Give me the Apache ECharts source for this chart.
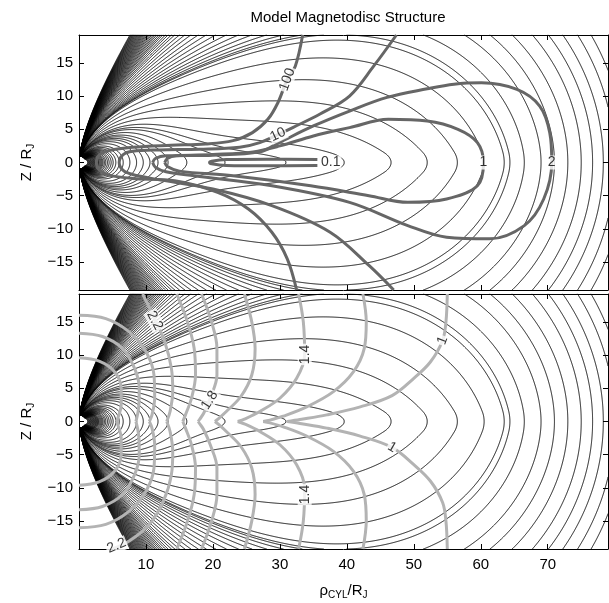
<!DOCTYPE html>
<html><head><meta charset="utf-8">
<script src="https://cdn.jsdelivr.net/npm/echarts/dist/echarts.min.js"></script>
<style>html,body{margin:0;padding:0;background:#fff;}#chart{width:609px;height:603px;}</style>
</head><body><div id="chart"></div>
<script>
// ---------------- values ----------------
const xTicks = [10, 20, 30, 40, 50, 60, 70];
const zTicks = [-15, -10, -5, 0, 5, 10, 15];
// equatorial crossing points (rho / RJ) of the black field lines (the last two close just outside the frame)
const equatorCrossings = [1.3,1.4,1.5,1.6,1.7,1.8,1.9,2.0,2.1,2.2,2.3,2.4,2.5,2.6,2.7,2.8,2.9,3.0,3.15,3.3,3.45,3.6,3.8,4.0,4.25,4.5,4.8,5.1,5.5,6.0,6.6,7.6,8.6,9.6,10.6,11.8,13.3,16.1,21.8,30.9,39.6,46.6,52,56.5,60.5,63.5,66.5,69,71,73,75,76.7,78.3,80,81.6];
// top-edge (z = 19.2) crossing points of the field lines that leave the frame through the top
const topEdgeCrossings = [7.6,7.72,7.84,7.96,8.08,8.2,8.33,8.46,8.6,8.74,8.88,9.03,9.18,9.34,9.5,9.67,9.85,10.03,10.22,10.42,10.63,10.85,11.1,11.35,11.6,11.9,12.2,12.5,12.9,13.3,13.8,14.3,15,15.8,16.7,17.8,19,20.4,22,23.8,25.8,28,30.5,33.3,36.5,40];
// plasma beta contours (top panel), points [rho, z]
const beta0p1 = [[35.6,0.45],[28,0.5],[22,0.45],[19.8,0.2],[19.5,0],[19.8,-0.2],[22,-0.45],[28,-0.5],[35.6,-0.45]];
const beta1 = [[12.8,0],[13.2,0.6],[14.5,1.0],[20,1.2],[26,1.6],[30,2.5],[35,4],[40.4,5.25],[46.2,6.5],[52,6.25],[56.6,5],[59.5,3],[60.4,0],[59.5,-3.5],[54.9,-5.5],[49.1,-6],[43.3,-5],[34.6,-3.5],[23,-2],[15,-1.3],[13.2,-0.6],[12.8,0]];
const beta2 = [[11.0,0],[11.4,0.6],[13,1.0],[20,1.1],[27,1.6],[29.9,3],[35,5.5],[40.4,7.75],[46,9.8],[52,11.1],[56,11.8],[60.1,12],[65.4,11],[68.8,8.5],[70.3,4.5],[70.6,0],[69.4,-5.5],[66.5,-9.5],[61.3,-11.5],[54.9,-11.25],[49.1,-9.5],[40.4,-6],[28.8,-3.5],[17.2,-2],[13,-1.4],[11.4,-0.7],[11.0,0]];
const beta10 = [[47.4,19.2],[44,14.5],[40.4,10],[36,7.3],[32,5.3],[29.7,4.2],[27,3],[24,2.3],[18,2.0],[12,1.9],[8,1.7],[6.6,1.2],[6.0,0],[6.6,-1.2],[8,-1.8],[11.4,-2.5],[20,-4],[28.8,-6.5],[37.5,-10.5],[43.3,-15.5],[47,-19.2]];
const beta100 = [[33.4,19.2],[32.3,14.5],[31.1,12.5],[29.7,9],[28.2,6.5],[25.9,4.5],[23,3.3],[18.9,2.8],[13.7,2.6],[8,2.3],[4.5,1.8],[3,1.1],[2.6,0],[3,-1.1],[4.5,-1.9],[8,-2.4],[14.3,-2.75],[20.7,-4.5],[25.3,-7],[28.8,-10.5],[31.1,-14.5],[32.5,-19.2]];
const betaLabels = [['0.1',37.6,0,0],['1',60.4,0,0],['2',70.6,0,0],['10',29.7,4.2,25],['100',31.1,12.5,70]];
// log10 |B| contours (bottom panel): upper halves [rho, z] from the equator outwards; lower halves mirror them
const logB1p0 = [[31.1,0],[33,0.3],[37,1.0],[42,2.2],[46.75,3.9],[50,6.5],[52.5,9],[54.3,12.2],[54.8,15],[55,19.2]];
const logB1p2 = [[27.5,0],[28.5,0.2],[30.5,0.8],[34,2.2],[38,4.5],[41,7.5],[42.6,11],[42.9,15],[42.4,19.2]];
const logB1p4 = [[23.7,0],[24.8,0.4],[27,1.5],[30,3.5],[32.5,6.5],[33.7,10.1],[33.5,15],[32.8,19.2]];
const logB1p6 = [[20.3,0],[20.8,0.4],[22,1.5],[24.2,3.8],[25.8,7],[26.3,11],[25.8,15],[24.7,19.2]];
const logB1p8 = [[17.8,0],[18,0.3],[18.6,1.2],[19.6,3.5],[20.6,7],[20.6,11],[19.8,15],[18.3,19.2]];
const logB2p0 = [[15.5,0],[15.9,1],[16.8,3.5],[17.4,7],[17.2,11],[16.2,15],[14.6,19.2]];
const logB2p2 = [[13.1,0],[13.6,1.5],[14,4.5],[13.8,8],[12.8,12],[11.3,15.5],[9.5,19.2]];
const logB2p2Low = [[13.1,0],[13.6,-1.5],[14,-4.5],[13.8,-8],[12.6,-12],[10.5,-15.5],[7.5,-18],[5,-19.2]];
const logB2p4 = [[10.5,0],[10.9,1],[11.3,3.5],[11.2,7],[10,10.5],[7.5,13.5],[4,15.5],[0,16]];
const logB2p6 = [[8.5,0],[8.9,2],[9,5],[8.3,8],[6.5,11],[3.5,12.8],[0,13.3]];
const logB2p8 = [[5.6,0],[5.9,0.8],[6.3,2.5],[6.3,5],[5.3,7.5],[3,9.1],[0,9.6]];
const logBLabels = [['2.2',11.3,15.2,-62],['2.2',5.6,-18.7,22],['1.8',19.5,3.2,58],['1.4',33.7,10.1,90],['1.4',33.7,-11,90],['1',54.3,12.2,69],['1',46.75,-3.9,-30]];

// ---------------- magnetodisc model for the field-line shapes (dipole + current disc) ----------------
const M_DIP = 4.2e5, DISC_IN = 10, DISC_OUT = 72, DISC_TAPER = 32, DISC_D = 1.5, DISC_K_MAX = 700, B_UNI = 2;
const X0 = 0, X1 = 79, Z0 = -19.2, Z1 = 19.2;

function ellipKE(m){
  const m1 = 1 - m, L = Math.log(1 / m1);
  const K = (1.38629436112 + m1*(0.09666344259 + m1*(0.03590092383 + m1*(0.03742563713 + m1*0.01451196212))))
          + L*(0.5 + m1*(0.12498593597 + m1*(0.06880248576 + m1*(0.03328355346 + m1*0.00441787012))));
  const E = (1 + m1*(0.44325141463 + m1*(0.06260601220 + m1*(0.04757383546 + m1*0.01736506451))))
          + L*(m1*(0.24998368310 + m1*(0.09200180037 + m1*(0.04069697526 + m1*0.00526449639))));
  return [K, E];
}
function loopPsi(a, z0, r, z, mu0I){
  if (r <= 0) return 0;
  const dz = z - z0, den = (a + r)*(a + r) + dz*dz, m = 4*a*r/den;
  if (m <= 1e-12) return 0;
  const ke = ellipKE(m), k = Math.sqrt(m);
  return mu0I/Math.PI*Math.sqrt(a*r)/k*((1 - m/2)*ke[0] - ke[1]);
}
const DR = 0.5, DZC = 0.25, NR = 170, NZC = 86;
const G = new Float64Array(NR*NZC);
(function(){
  const loops = [];
  for (let a = DISC_IN + 0.25; a < DISC_OUT; a += 0.5){
    let w = 1;
    if (a > DISC_TAPER){ const t = (a - DISC_TAPER)/(DISC_OUT - DISC_TAPER); w = Math.cos(t*Math.PI/2)**2; }
    for (let z0 = -DISC_D + 0.25; z0 < DISC_D; z0 += 0.5)
      loops.push([a, z0, w*0.5*0.5/a]);
  }
  for (let i = 0; i < NR; i++){
    const r = i*DR;
    for (let j = 0; j < NZC; j++){
      const z = j*DZC; let s = 0;
      for (let q = 0; q < loops.length; q++){ const L = loops[q]; s += loopPsi(L[0], L[1], r, z, L[2]); }
      G[i*NZC + j] = s;
    }
  }
})();
function g(i, j){ if (i < 0) i = -i; if (j < 0) j = -j; return G[i*NZC + j]; }
function cr(p0,p1,p2,p3,t){ return p1 + 0.5*t*(p2 - p0 + t*(2*p0 - 5*p1 + 4*p2 - p3 + t*(3*(p1 - p2) + p3 - p0))); }
function discPsi1(r, z){
  z = Math.abs(z);
  const fx = r/DR, fz = z/DZC;
  let i = Math.floor(fx), j = Math.floor(fz);
  if (i > NR - 3) i = NR - 3; if (j > NZC - 3) j = NZC - 3;
  const tx = fx - i, tz = fz - j;
  const row = jj => cr(g(i-1,jj), g(i,jj), g(i+1,jj), g(i+2,jj), tx);
  return cr(row(j-1), row(j), row(j+1), row(j+2), tz);
}
function basePsi(r, z){ const r2 = r*r + z*z; return M_DIP*r*r/(r2*Math.sqrt(r2)) - B_UNI*r*r/2; }
let DISC_K = DISC_K_MAX;
for (let it = 0; it < 40; it++){
  let ok = true;
  for (let r = 1.5; r <= 82; r += 0.25){
    const d = (basePsi(r + 0.1, 0) + DISC_K*discPsi1(r + 0.1, 0) - basePsi(r - 0.1, 0) - DISC_K*discPsi1(r - 0.1, 0))/0.2;
    if (d > -r*1.2){ ok = false; break; }
  }
  if (ok) break;
  DISC_K *= 0.92;
}
function psiTot(r, z){ return basePsi(r, z) + DISC_K*discPsi1(r, z); }

const xs = [];
for (let k = 0; k < 200; k++) xs.push(k*0.025);
for (let k = 0; k < 200; k++) xs.push(5 + k*0.05);
for (let k = 0; k <= 640; k++) xs.push(15 + k*0.1);
const zh = [];
for (let k = 0; k < 120; k++) zh.push(k*0.025);
for (let k = 0; k < 100; k++) zh.push(3 + k*0.05);
for (let k = 0; k <= 112; k++) zh.push(Math.min(8 + k*0.1, 19.2));
const zs = zh.slice(1).map(v => -v).reverse().concat(zh);
const NX = xs.length, NZ = zs.length;
const F = new Float64Array(NX*NZ);
for (let i = 0; i < NX; i++) for (let j = 0; j < NZ; j++){
  const x = xs[i], z = zs[j];
  F[i*NZ + j] = (x*x + z*z < 1.0) ? NaN : psiTot(x, z);
}

function contour(Fa, levels){
  const order = levels.map((v, i) => i).sort((a, b) => levels[a] - levels[b]);
  const lv = order.map(i => levels[i]);
  const segs = lv.map(() => []);
  for (let i = 0; i < NX - 1; i++){
    for (let j = 0; j < NZ - 1; j++){
      const f0 = Fa[i*NZ + j], f1 = Fa[(i+1)*NZ + j], f2 = Fa[(i+1)*NZ + j + 1], f3 = Fa[i*NZ + j + 1];
      if (!(f0 === f0 && f1 === f1 && f2 === f2 && f3 === f3)) continue;
      const mn = Math.min(f0, f1, f2, f3), mx = Math.max(f0, f1, f2, f3);
      let lo = 0, hi = lv.length;
      while (lo < hi){ const m = (lo + hi) >> 1; if (lv[m] < mn) lo = m + 1; else hi = m; }
      for (let k = lo; k < lv.length && lv[k] < mx; k++){
        const L = lv[k];
        const c = (f0 > L ? 1 : 0) | (f1 > L ? 2 : 0) | (f2 > L ? 4 : 0) | (f3 > L ? 8 : 0);
        if (c === 0 || c === 15) continue;
        const e0 = 2*(i*NZ + j), e1 = 2*((i+1)*NZ + j) + 1, e2 = 2*(i*NZ + j + 1), e3 = 2*(i*NZ + j) + 1;
        const S = segs[k];
        switch (c){
          case 1: case 14: S.push(e3, e0); break;
          case 2: case 13: S.push(e0, e1); break;
          case 3: case 12: S.push(e3, e1); break;
          case 4: case 11: S.push(e1, e2); break;
          case 6: case 9: S.push(e0, e2); break;
          case 7: case 8: S.push(e3, e2); break;
          case 5: { const ct = (f0+f1+f2+f3)/4; if (ct > L) S.push(e0, e1, e2, e3); else S.push(e3, e0, e1, e2); break; }
          case 10: { const ct = (f0+f1+f2+f3)/4; if (ct > L) S.push(e3, e0, e1, e2); else S.push(e0, e1, e2, e3); break; }
        }
      }
    }
  }
  const result = new Array(levels.length);
  for (let k = 0; k < lv.length; k++){
    const out = [];
    const S = segs[k], L = lv[k], n = S.length/2;
    const adj = new Map();
    for (let s = 0; s < n; s++){
      for (let h = 0; h < 2; h++){ const e = S[2*s + h]; const a = adj.get(e); if (a) a.push(s); else adj.set(e, [s]); }
    }
    const used = new Uint8Array(n);
    const walk = (start, arr) => {
      let cur = start;
      for (;;){
        const a = adj.get(cur); let nx = -1;
        for (let q = 0; q < a.length; q++) if (!used[a[q]]){ nx = a[q]; break; }
        if (nx < 0) break;
        used[nx] = 1;
        const o = S[2*nx] === cur ? S[2*nx + 1] : S[2*nx];
        arr.push(o); cur = o;
      }
    };
    const pt = key => {
      const idx = key >> 1, i = (idx/NZ) | 0, j = idx - i*NZ;
      if (key & 1){ const fa = Fa[idx], fb = Fa[idx + 1], t = (L - fa)/(fb - fa); return [xs[i], zs[j] + t*(zs[j+1] - zs[j])]; }
      const fa = Fa[idx], fb = Fa[idx + NZ], t = (L - fa)/(fb - fa); return [xs[i] + t*(xs[i+1] - xs[i]), zs[j]];
    };
    for (let s = 0; s < n; s++){
      if (used[s]) continue; used[s] = 1;
      const fw = [S[2*s], S[2*s + 1]]; walk(S[2*s + 1], fw);
      const bw = []; walk(S[2*s], bw);
      const keys = bw.reverse().concat(fw);
      const coords = []; let lx = -1e9, lz = -1e9;
      for (let q = 0; q < keys.length; q++){
        const p = pt(keys[q]);
        const dx = (p[0] - lx)*6.7, dz = (p[1] - lz)*6.64;
        if (q === keys.length - 1 || dx*dx + dz*dz > 0.36){ coords.push(p); lx = p[0]; lz = p[1]; }
      }
      if (coords.length > 1) out.push(coords);
    }
    result[order[k]] = out;
  }
  return result;
}
const eqLevels = equatorCrossings.map(x => psiTot(x, 0));
const topLevels = topEdgeCrossings.map(x => psiTot(x, Z1));
const eqPolys = contour(F, eqLevels);
const topPolys = contour(F, topLevels);
const fieldLines = [];
eqPolys.forEach(list => list.forEach(c => {
  let cross = false, right = false;
  for (let q = 0; q < c.length; q++){
    if (Math.abs(c[q][1]) < 1e-9) cross = true;
    if (q > 0 && c[q][1]*c[q-1][1] < 0) cross = true;
    if (c[q][0] > X1 - 0.02) right = true;
  }
  if (cross || right) fieldLines.push({coords: c});
}));
topPolys.forEach((list, k) => list.forEach(c => {
  const xt = topEdgeCrossings[k];
  const ends = [c[0], c[c.length - 1]];
  if (ends.some(p => Math.abs(Math.abs(p[1]) - Z1) < 0.05 && Math.abs(p[0] - xt) < 0.4)) fieldLines.push({coords: c});
}));

// ---------------- chart ----------------
const FONT = 'Liberation Sans, Arial, Helvetica, sans-serif';
const minus = v => String(v).replace('-', '\u2212');
const gridTop = {left: 79, top: 35, width: 529, height: 255};
const gridBot = {left: 79, top: 294, width: 529, height: 255};
function xAx(gi, pos, labels){
  return {type:'value', gridIndex: gi, position: pos, min: X0, max: X1,
    axisLine:{show:true, onZero:false, lineStyle:{color:'#000', width:1}},
    axisTick:{show:true, inside:true, length:5, customValues: xTicks, lineStyle:{color:'#000'}},
    axisLabel:{show: labels, customValues: xTicks, color:'#000', fontSize:15, fontFamily: FONT, margin: 8},
    splitLine:{show:false}};
}
function yAx(gi, pos, labels){
  return {type:'value', gridIndex: gi, position: pos, min: Z0, max: Z1,
    axisLine:{show:true, onZero:false, lineStyle:{color:'#000', width:1}},
    axisTick:{show:true, inside:true, length:5, customValues: zTicks, lineStyle:{color:'#000'}},
    axisLabel:{show: labels, customValues: zTicks, formatter: minus, color:'#000', fontSize:15, fontFamily: FONT, margin: 6},
    splitLine:{show:false},
    name: labels ? '{a|Z / R}{s|J}' : '', nameLocation:'middle', nameGap: 42,
    nameTextStyle:{color:'#000', fontFamily: FONT, rich:{a:{fontSize:15, fontFamily: FONT}, s:{fontSize:10, fontFamily: FONT, padding:[9,0,0,0]}}}};
}
const xAxes = [xAx(0,'bottom',false), xAx(1,'bottom',true), xAx(0,'top',false), xAx(1,'top',false)];
xAxes[1].name = '\u03c1{s|CYL}/R{s|J}';
xAxes[1].nameLocation = 'middle'; xAxes[1].nameGap = 32;
xAxes[1].nameTextStyle = {color:'#000', fontFamily: FONT, rich:{a:{fontSize:15}, s:{fontSize:10, fontFamily: FONT, padding:[9,0,0,0]}}, fontSize:15};
const yAxes = [yAx(0,'left',true), yAx(1,'left',true), yAx(0,'right',false), yAx(1,'right',false)];

function linesSeries(xi, yi, data, color, width, z){
  return {type:'lines', coordinateSystem:'cartesian2d', xAxisIndex: xi, yAxisIndex: yi, polyline: true,
    data, silent: true, animation: false, progressive: 0, large: false, z,
    lineStyle:{color, width, opacity: 1, cap:'round', join:'round'}};
}
function curve(xi, yi, pts, color, width, z){
  return {type:'line', xAxisIndex: xi, yAxisIndex: yi, data: pts, showSymbol:false, symbol:'none', smooth: 0.35,
    silent: true, animation: false, z, clip: true, lineStyle:{color, width, cap:'butt', join:'round'}};
}
function labelSeries(xi, yi, labels){
  return {type:'scatter', xAxisIndex: xi, yAxisIndex: yi, symbolSize: 0, silent: true, animation: false, z: 10,
    data: labels.map(l => ({name: l[0], value: [l[1], l[2]], label:{rotate: l[3]}})),
    label:{show: true, position:'inside', formatter: p => p.name, color:'#000', fontSize: 14, fontFamily: FONT,
      backgroundColor:'#fff', padding:[0, 1]}};
}
const BETA_C = '#666666', LOGB_C = '#b3b3b3';
const mirror = pts => pts.map(p => [p[0], -p[1]]);
const logBUpper = [logB1p0, logB1p2, logB1p4, logB1p6, logB1p8, logB2p0, logB2p2, logB2p4, logB2p6, logB2p8];
const logBLower = [logB1p0, logB1p2, logB1p4, logB1p6, logB1p8, logB2p0, null, logB2p4, logB2p6, logB2p8].map(p => p ? mirror(p) : logB2p2Low);
const series = [
  linesSeries(0, 0, fieldLines, '#000', 0.9, 2),
  curve(0, 0, beta0p1, BETA_C, 3, 4), curve(0, 0, beta1, BETA_C, 3, 4), curve(0, 0, beta2, BETA_C, 3, 4),
  curve(0, 0, beta10, BETA_C, 3, 4), curve(0, 0, beta100, BETA_C, 3, 4),
  labelSeries(0, 0, betaLabels),
  linesSeries(1, 1, fieldLines, '#000', 0.9, 2)
].concat(logBUpper.map(p => curve(1, 1, p, LOGB_C, 3, 4)))
 .concat(logBLower.map(p => curve(1, 1, p, LOGB_C, 3, 4)))
 .concat([labelSeries(1, 1, logBLabels)]);
const chart = echarts.init(document.getElementById('chart'), null, {renderer:'canvas'});
chart.setOption({
  backgroundColor:'#fff', animation:false,
  title:{text:'Model Magnetodisc Structure', left: 343, textAlign:'center', top: 5,
    textStyle:{fontSize:15, fontWeight:'normal', color:'#000', fontFamily: FONT}},
  grid:[gridTop, gridBot], xAxis: xAxes, yAxis: yAxes, series
});
</script></body></html>
